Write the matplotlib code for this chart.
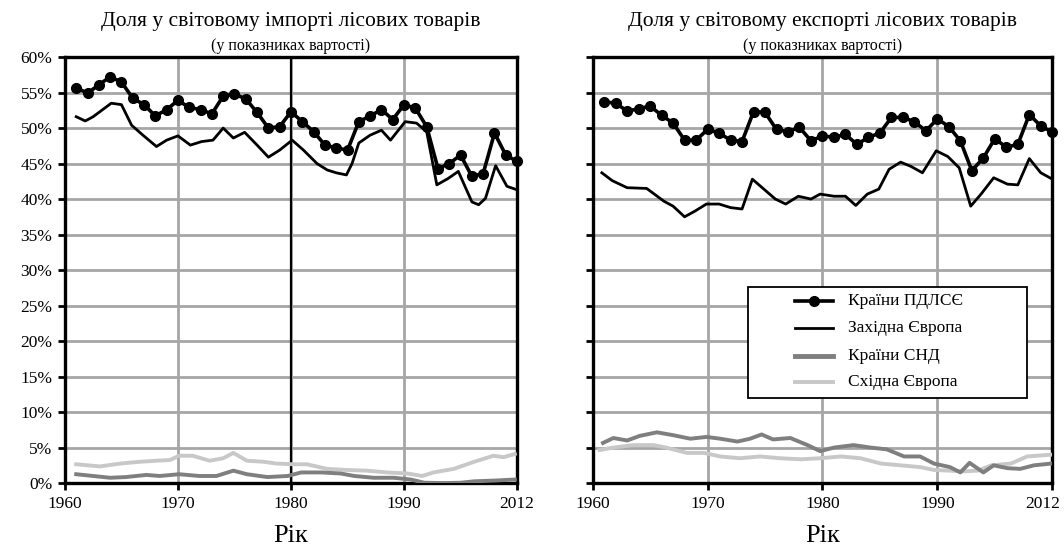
import matplotlib.pyplot as plt
import matplotlib.transforms as mtrans
from matplotlib.patches import Rectangle
from matplotlib.ticker import FuncFormatter

plt.rcParams['font.family'] = ['Liberation Serif', 'DejaVu Serif']

# x axis: 1960..2000 drawn as equal intervals, last tick printed as 2012
tick_pos = [1960, 1970, 1980, 1990, 2000]
tick_lbl = ['1960', '1970', '1980', '1990', '2012']
years = list(range(1961, 2001))

# --- import panel ---
imp_pdlse = [55.7, 54.9, 56.1, 57.2, 56.5, 54.2, 53.3, 51.7, 52.6, 53.9,
             52.9, 52.6, 52.0, 54.5, 54.8, 54.1, 52.2, 50.0, 50.2, 52.3,
             50.9, 49.5, 47.6, 47.2, 46.9, 50.9, 51.7, 52.6, 51.2, 53.3,
             52.8, 50.2, 44.3, 45.0, 46.2, 43.2, 43.6, 49.3, 46.2, 45.3]
imp_we_x = [1961, 1961.8, 1962.5, 1964.1, 1965, 1965.9, 1966.9, 1968.1, 1969, 1970,
            1971.1, 1972.1, 1973.1, 1974, 1974.9, 1975.9, 1977, 1978, 1979, 1980.1,
            1981.1, 1982.3, 1983.2, 1984, 1984.9, 1985.4, 1986, 1987, 1988, 1988.8,
            1990.1, 1991.1, 1992, 1992.9, 1993.9, 1994.8, 1996, 1996.6, 1997.2, 1998.1,
            1999.1, 2000]
imp_we = [51.6, 51.0, 51.6, 53.5, 53.3, 50.4, 49.0, 47.4, 48.3, 48.9,
          47.6, 48.1, 48.3, 50.0, 48.6, 49.4, 47.6, 45.9, 46.9, 48.3,
          46.9, 45.0, 44.1, 43.7, 43.4, 45.0, 47.9, 49.0, 49.7, 48.3,
          50.9, 50.7, 49.5, 42.0, 42.9, 43.9, 39.6, 39.2, 40.1, 44.7,
          41.8, 41.3]
imp_ee_x = [1961, 1963.1, 1964.9, 1966.6, 1968.1, 1969.3, 1970.1, 1971.3, 1972.8, 1974,
            1974.9, 1976.1, 1977.6, 1978.7, 1980.2, 1981.4, 1983.2, 1984.9, 1986.7, 1988.5,
            1990.3, 1991.6, 1992.6, 1994.4, 1996.2, 1997.9, 1998.8, 1999.8]
imp_ee = [2.65, 2.35, 2.75, 3.0, 3.15, 3.25, 3.85, 3.85, 3.15, 3.5,
          4.25, 3.15, 3.0, 2.75, 2.65, 2.65, 2.0, 1.85, 1.75, 1.5,
          1.35, 1.0, 1.5, 2.0, 3.0, 3.85, 3.65, 4.1]
imp_cis_x = [1961, 1962.5, 1964, 1965.4, 1967.2, 1968.4, 1970.1, 1971.9, 1973.4, 1974.9,
             1976.1, 1977.9, 1979.7, 1980.9, 1982.7, 1984.4, 1985.6, 1987.3, 1989.1, 1990.6,
             1991.8, 1993.6, 1995, 1996.2, 1997.9, 1999.8]
imp_cis = [1.25, 1.0, 0.75, 0.85, 1.15, 1.0, 1.25, 1.0, 1.0, 1.75,
           1.25, 0.85, 1.0, 1.5, 1.5, 1.35, 1.0, 0.75, 0.75, 0.5,
           0.05, 0.0, 0.05, 0.25, 0.35, 0.5]

# --- export panel ---
exp_pdlse = [53.7, 53.5, 52.4, 52.7, 53.1, 51.8, 50.7, 48.3, 48.3, 49.8,
             49.3, 48.3, 48.1, 52.3, 52.2, 49.8, 49.5, 50.1, 48.2, 48.9,
             48.7, 49.1, 47.7, 48.7, 49.3, 51.5, 51.5, 50.9, 49.6, 51.3,
             50.2, 48.2, 44.0, 45.8, 48.5, 47.3, 47.7, 51.9, 50.3, 49.4]
exp_we_x = [1960.8, 1961.7, 1963, 1964.7, 1966.2, 1967, 1968, 1968.9, 1969.9, 1971,
            1972, 1973, 1973.9, 1974.9, 1975.9, 1976.8, 1977.9, 1979, 1979.8, 1981,
            1982, 1982.9, 1983.9, 1984.9, 1985.8, 1986.8, 1987.7, 1988.7, 1989.9, 1990.9,
            1991.9, 1992.9, 1993.8, 1994.9, 1996.1, 1997, 1998, 1999, 1999.9]
exp_we = [43.7, 42.6, 41.6, 41.5, 39.7, 39.0, 37.5, 38.3, 39.3, 39.3,
          38.8, 38.6, 42.8, 41.4, 40.0, 39.3, 40.4, 40.0, 40.7, 40.4,
          40.4, 39.1, 40.7, 41.4, 44.2, 45.2, 44.6, 43.7, 46.8, 46.0,
          44.4, 39.0, 40.7, 43.0, 42.1, 42.0, 45.7, 43.7, 42.9]
exp_cis_x = [1960.9, 1961.8, 1963, 1964.1, 1965.6, 1967, 1968.5, 1969.9, 1971.1, 1972.6,
             1973.7, 1974.7, 1975.7, 1977.2, 1978.7, 1979.8, 1981, 1982.7, 1984.2, 1985.6,
             1987.1, 1988.5, 1989.7, 1991.1, 1992, 1992.8, 1994, 1994.9, 1996.1, 1997.2,
             1998.4, 1999.9]
exp_cis = [5.65, 6.35, 6.0, 6.65, 7.15, 6.75, 6.25, 6.5, 6.25, 5.85,
           6.25, 6.85, 6.15, 6.35, 5.35, 4.5, 5.0, 5.35, 5.0, 4.75,
           3.75, 3.75, 2.75, 2.25, 1.5, 2.85, 1.5, 2.5, 2.1, 2.0,
           2.5, 2.75]
exp_ee_x = [1960.6, 1961.8, 1963.5, 1965.3, 1966.4, 1968.2, 1969.7, 1971.1, 1972.8, 1974.6,
            1976.3, 1978.1, 1979.8, 1981.6, 1983.3, 1985.1, 1986.8, 1988.5, 1989.7, 1991.1,
            1992.3, 1993.5, 1994.7, 1996.4, 1997.8, 1999.9]
exp_ee = [4.65, 5.0, 5.35, 5.35, 5.0, 4.25, 4.25, 3.75, 3.5, 3.75,
          3.5, 3.35, 3.5, 3.75, 3.5, 2.75, 2.5, 2.25, 1.85, 1.75,
          1.65, 1.75, 2.5, 2.75, 3.75, 4.0]

labels = ['Країни ПДЛСЄ', 'Західна Європа', 'Країни СНД', 'Східна Європа']
titles = ['Доля у світовому імпорті лісових товарів',
          'Доля у світовому експорті лісових товарів']
subtitle = '(у показниках вартості)'

fig = plt.figure(figsize=(10.64, 5.54), dpi=100)
ax1 = fig.add_axes([0.061, 0.128, 0.425, 0.769])
ax2 = fig.add_axes([0.557, 0.128, 0.432, 0.769])


def style(ax, show_y):
    ax.set_xlim(1960, 2000)
    ax.set_ylim(0, 60)
    ax.set_xticks(tick_pos)
    ax.set_xticklabels(tick_lbl)
    ax.set_yticks(range(0, 61, 5))
    ax.yaxis.set_major_formatter(FuncFormatter(lambda v, p: '%d%%' % v))
    if not show_y:
        ax.set_yticklabels([])
    ax.grid(True, color='#a6a6a6', linewidth=2)
    ax.set_axisbelow(True)
    for s in ax.spines.values():
        s.set_linewidth(2.4)
        s.set_color('black')
    ax.tick_params(direction='out', length=5, width=2, labelsize=12.5, pad=4)
    ax.set_xlabel('Рік', fontsize=19, labelpad=10)


for ax, pd, wex, we, cx, c, ex, e, show in [
        (ax1, imp_pdlse, imp_we_x, imp_we, imp_cis_x, imp_cis, imp_ee_x, imp_ee, True),
        (ax2, exp_pdlse, exp_we_x, exp_we, exp_cis_x, exp_cis, exp_ee_x, exp_ee, False)]:
    style(ax, show)
    ax.plot(ex, e, color='#c8c8c8', lw=2.8, zorder=3)
    ax.plot(cx, c, color='#7f7f7f', lw=2.8, zorder=3)
    ax.plot(wex, we, color='black', lw=2.0, zorder=4)
    ax.plot(years, pd, color='black', lw=2.6, marker='o', ms=7,
            zorder=5, clip_on=False)

# darker gridline seen at 1980 in the import panel
ax1.axvline(1980, color='black', lw=1.6, zorder=1)

# last tick label of the export panel sits a little left of the corner
shift = mtrans.ScaledTranslation(-10 / 100, 0, fig.dpi_scale_trans)
last = ax2.get_xticklabels()[-1]
last.set_transform(last.get_transform() + shift)

fig.text(0.2735, 0.953, titles[0], ha='center', fontsize=15.5)
fig.text(0.2735, 0.910, subtitle, ha='center', fontsize=11.5)
fig.text(0.773, 0.953, titles[1], ha='center', fontsize=15.5)
fig.text(0.773, 0.910, subtitle, ha='center', fontsize=11.5)

# legend box drawn in axes coordinates of the export panel
ax2.add_patch(Rectangle((0.338, 0.1995), 0.608, 0.2605, transform=ax2.transAxes,
                        facecolor='white', edgecolor='black', lw=1.3, zorder=10))
rows = [0.427, 0.364, 0.298, 0.237]
styles = [dict(color='black', lw=2.6), dict(color='black', lw=2.0),
          dict(color='#7f7f7f', lw=3.5), dict(color='#c8c8c8', lw=2.8)]
for i, (ry, st) in enumerate(zip(rows, styles)):
    ax2.plot([0.440, 0.523], [ry, ry], transform=ax2.transAxes, zorder=11,
             clip_on=False, **st)
    if i == 0:
        ax2.plot([0.4815], [ry], 'o', color='black', ms=7,
                 transform=ax2.transAxes, zorder=12)
    ax2.text(0.556, ry, labels[i], transform=ax2.transAxes, va='center',
             ha='left', fontsize=12.5, zorder=12)

fig.savefig('out.png', dpi=100)
